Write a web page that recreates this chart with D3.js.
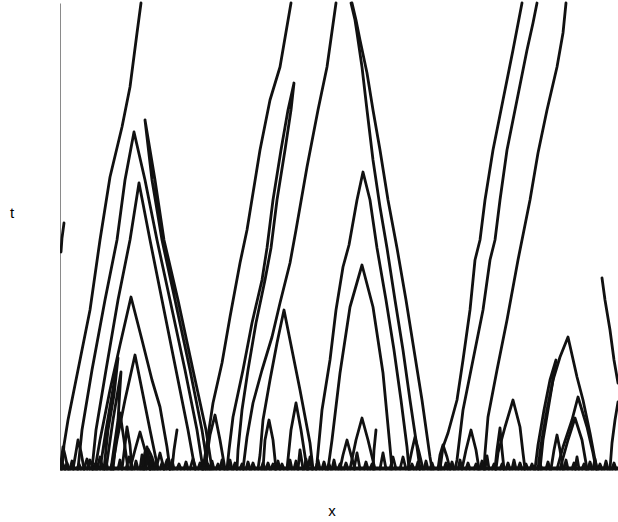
<!DOCTYPE html>
<html>
<head>
<meta charset="utf-8">
<script src="https://cdn.jsdelivr.net/npm/d3@7"></script>
<style>
  body { margin: 0; background: #fff; }
  .traj { fill: none; stroke: #111; stroke-width: 2.8; stroke-linejoin: round; stroke-linecap: round; }
</style>
</head>
<body>
<div id="chart"></div>
<script>
// particle paths, points are [site, step]

// walkers that survive to the last step
const survivorPaths = [
    [[2,0],[4,24],[8,49],[15,84],[22,119],[30,159],[40,229],[50,292],[62,342],[70,382],[77,436],[81,466]],
    [[143,0],[147,26],[153,66],[162,106],[170,152],[180,206],[187,239],[200,319],[210,369],[220,402],[231,466]],
    [[183,0],[187,32],[193,66],[202,99],[212,132],[220,166],[230,206],[236,239],[247,302],[258,359],[267,402],[276,466]],
    [[360,0],[357,22],[350,69],[343,119],[335,169],[327,221],[320,262],[313,309],[307,359],[302,402],[297,436],[295,449],[291,466]],
    [[372,0],[370,12],[362,69],[354,119],[346,169],[337,221],[328,269],[320,319],[313,359],[307,396],[300,429],[296,449],[292,466]],
    [[380,0],[383,22],[388,36],[397,69],[403,109],[410,159],[415,209],[420,229],[425,269],[433,319],[443,369],[453,419],[462,466]],
    [[395,0],[397,9],[403,59],[413,109],[423,159],[430,209],[435,229],[440,269],[447,319],[457,369],[467,419],[473,446],[477,466]],
    [[424,0],[425,16],[428,52],[437,99],[447,149],[458,209],[462,229],[470,269],[478,316],[487,359],[497,402],[503,436],[506,466]]
];

// pairs that meet and annihilate (left foot -> apex -> right foot)
const bigLambdas = [
    [[18,0],[22,39],[32,99],[45,169],[57,229],[65,289],[74,337],[85,289],[97,229],[110,169],[125,99],[137,39],[143,0]],
    [[152,0],[146,39],[133,99],[118,169],[104,229],[95,289],[85,349],[92,289],[102,229],[115,169],[130,99],[142,39],[148,0]],
    [[32,0],[36,39],[46,99],[58,169],[70,229],[79,286],[90,229],[102,169],[116,99],[128,39],[135,0]],
    [[35,0],[40,29],[50,79],[60,124],[71,172],[82,129],[92,89],[100,62],[107,22],[110,0]],
    [[52,0],[57,29],[65,69],[75,114],[83,74],[90,39],[98,0]],
    [[40,0],[46,39],[52,74],[58,111],[54,74],[48,39],[44,0]],
    [[46,0],[53,49],[61,97],[58,49],[51,0]],
    [[167,0],[169,19],[173,52],[183,99],[192,146],[202,189],[207,221],[213,269],[221,319],[228,359],[234,386],
     [231,359],[225,319],[217,269],[211,221],[205,189],[196,146],[188,99],[182,59],[178,19],[177,0]],
    [[198,0],[200,14],[203,49],[210,89],[217,126],[224,159],[230,129],[240,79],[250,26],[253,0]],
    [[256,0],[257,6],[262,59],[270,109],[276,159],[283,202],[289,224],[297,269],[303,297],[310,269],[317,221],[326,169],[334,119],[341,69],[347,22],[349,0]],
    [[268,0],[272,29],[280,96],[290,162],[302,204],[313,162],[323,96],[330,22],[332,0]],
    [[480,0],[483,29],[488,59],[493,89],[500,112],[508,132],[517,92],[523,69],[530,36],[535,9],[537,0]],
    [[475,0],[478,24],[484,59],[490,89],[496,109],[493,89],[487,59],[481,24],[478,0]],
    [[497,0],[503,22],[512,49],[518,72],[527,42],[533,16],[536,0]],
    [[500,0],[508,29],[515,51],[522,29],[527,0]],
    [[436,0],[438,16],[445,42],[453,69],[460,42],[463,16],[465,0]]
];

const smallLambdas = [
    [[0,0],[2,14],[3,22],[5,14],[8,0]],
    [[13,0],[16,17],[18,29],[21,17],[24,0]],
    [[27,0],[30,9],[33,0]],
    [[37,0],[40,12],[43,0]],
    [[53,0],[56,29],[60,56],[64,29],[68,0]],
    [[62,0],[65,24],[67,42],[70,24],[72,0]],
    [[70,0],[75,19],[80,37],[85,19],[90,0]],
    [[82,0],[85,17],[88,20],[91,14],[93,0]],
    [[84,0],[87,22],[90,0]],
    [[96,0],[100,16],[104,0]],
    [[104,0],[107,9],[110,0]],
    [[145,0],[150,34],[155,54],[160,29],[165,0]],
    [[203,0],[205,29],[209,49],[213,29],[216,0]],
    [[227,0],[231,39],[236,66],[241,39],[247,0]],
    [[280,0],[283,14],[287,29],[291,14],[295,0]],
    [[290,0],[296,29],[302,51],[308,29],[315,0]],
    [[348,0],[352,19],[355,32],[359,17],[363,0]],
    [[378,0],[380,14],[383,24],[387,12],[390,0]],
    [[402,0],[406,19],[411,39],[416,19],[419,0]],
    [[435,0],[437,19],[440,41],[442,19],[444,0]],
    [[491,0],[494,19],[497,34],[500,19],[503,0]]
];

// open pieces: walkers cut by the window edges, lone spikes
const edgeStrokes = [
    [[1,217],[2,231],[4,246]],
    [[112,0],[114,19],[117,39]],
    [[313,0],[314,19],[316,39]],
    [[542,191],[545,169],[550,139],[554,109],[558,86]],
    [[550,0],[552,26],[555,49],[558,67]]
];

// tiny collisions along t=0: [left foot, apex site, apex step, right foot]
const baselineBumps = [
    [1,3,5,5],[5,7,6,9],[10,12,8,14],[17,19,5,21],[24,27,10,30],[33,35,5,37],[44,46,7,48],[50,52,5,54],
    [58,60,9,62],[66,69,12,72],[74,76,8,78],[80,82,14,84],[86,88,16,91],[90,92,12,95],[94,96,8,98],
    [100,102,6,104],[106,108,10,110],[110,112,9,114],[117,119,5,121],[124,126,7,128],[130,133,10,136],
    [138,140,6,142],[146,148,5,150],[150,152,8,154],[156,158,5,160],[160,162,9,164],[168,170,9,172],
    [173,175,6,177],[180,182,5,184],[186,188,7,190],[191,193,6,195],[201,203,6,205],[206,208,6,210],
    [211,213,5,215],[216,218,8,220],[220,222,5,224],[228,230,9,232],[234,236,8,238],[238,240,19,243],
    [244,246,10,248],[248,250,12,252],[256,258,9,260],[262,264,7,266],[267,269,5,271],[272,274,9,276],
    [278,280,5,282],[284,286,6,288],[294,297,16,300],[304,306,7,308],[310,312,5,314],[320,323,16,326],
    [330,333,12,336],[340,343,12,346],[350,352,5,354],[356,358,7,360],[364,366,8,368],[370,372,6,374],
    [378,380,5,382],[384,386,6,388],[390,392,7,394],[398,400,9,402],[406,408,6,410],[414,416,5,418],
    [420,422,8,424],[425,427,13,429],[432,434,5,436],[440,442,5,444],[446,448,6,450],[452,454,9,456],
    [458,460,6,462],[464,466,5,468],[470,472,5,474],[478,480,5,482],[486,488,7,490],[504,506,9,508],
    [512,514,6,516],[515,517,12,519],[522,524,5,526],[528,530,7,532],[533,535,10,537],[538,540,5,542],
    [544,546,8,548],[552,554,6,556]
];

const siteRange = [0, 558];
const stepRange = [0, 466];

var width = 618, height = 522;
var x = d3.scaleLinear().domain(siteRange).range([60, 618]);
var y = d3.scaleLinear().domain(stepRange).range([469, 3]);

var svg = d3.select("#chart").append("svg")
    .attr("width", width)
    .attr("height", height);

svg.append("defs").append("clipPath").attr("id", "plotClip")
    .append("rect")
    .attr("x", x(siteRange[0]))
    .attr("y", y(stepRange[1]) - 2)
    .attr("width", x(siteRange[1]) - x(siteRange[0]))
    .attr("height", y(stepRange[0]) - y(stepRange[1]) + 4);

// left axis: only a thin grey line
var yAxis = svg.append("g")
    .attr("transform", "translate(" + x(0) + ",0)")
    .call(d3.axisLeft(y).ticks(0).tickSizeOuter(0));
yAxis.select(".domain").attr("stroke", "#8a8a8a").attr("stroke-width", 1);

var line = d3.line()
    .x(function (d) { return x(d[0]); })
    .y(function (d) { return y(d[1]); });

var plot = svg.append("g").attr("clip-path", "url(#plotClip)");

var allPaths = survivorPaths.concat(bigLambdas, smallLambdas, edgeStrokes);
plot.selectAll("path.traj")
    .data(allPaths)
    .enter().append("path")
    .attr("class", "traj")
    .attr("d", line);

plot.selectAll("path.bump")
    .data(baselineBumps)
    .enter().append("path")
    .attr("class", "traj bump")
    .attr("stroke-width", 2.6)
    .attr("d", function (b) { return line([[b[0], 0], [b[1], b[2]], [b[3], 0]]); });

// baseline at t = 0
var xAxis = plot.append("g")
    .attr("transform", "translate(0," + (y(0) - 1) + ")")
    .call(d3.axisBottom(x).ticks(0).tickSizeOuter(0));
xAxis.select(".domain").attr("stroke", "#111").attr("stroke-width", 4);

svg.append("text")
    .attr("x", 12).attr("y", 218)
    .attr("text-anchor", "middle")
    .style("font-family", "Liberation Sans, Arial, sans-serif")
    .style("font-size", "15px")
    .text("t");

svg.append("text")
    .attr("x", 332).attr("y", 516)
    .attr("text-anchor", "middle")
    .style("font-family", "Liberation Sans, Arial, sans-serif")
    .style("font-size", "15px")
    .text("x");
</script>
</body>
</html>
